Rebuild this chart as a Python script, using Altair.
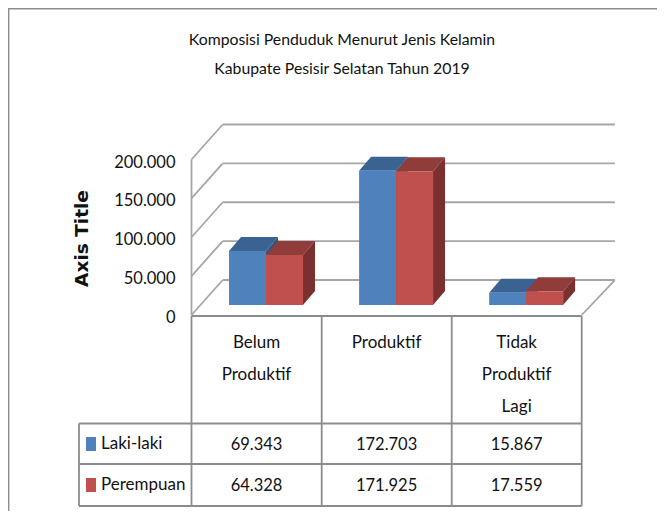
import altair as alt
import pandas as pd

categories = ["Belum\nProduktif", "Produktif", "Tidak\nProduktif\nLagi"]
laki = [69343, 172703, 15867]
perempuan = [64328, 171925, 17559]
series_names = ["Laki-laki", "Perempuan"]
ticks = [0, 50000, 100000, 150000, 200000]
title_lines = ["Komposisi Penduduk Menurut Jenis Kelamin", "Kabupate Pesisir Selatan Tahun 2019"]

FONT = "Lato"
GRID = "#a6a6a6"
TABLE = "#8c8c8c"
W, H = 649, 503

# scale units: x in category widths, y in data values
BAR_W = 0.2843
BAR_START = 0.2885
DX, DY = 0.0923, 18000
FRONT_V, BACK_V = -12860, 32146
BACK_U, END_U = 0.24, 3 + 0.255

x_scale = alt.Scale(domain=[0, 3], range=[183.5, 573.7], nice=False, zero=False)
y_scale = alt.Scale(domain=[0, 200000], range=[297, 141.5], nice=False, zero=False)

face_domain = ["Laki-laki front", "Laki-laki top", "Laki-laki side",
               "Perempuan front", "Perempuan top", "Perempuan side"]
face_range = ["#4f81bd", "#3b6392", "#34557e", "#c0504d", "#8f3c3a", "#7a302e"]
fill = lambda f: alt.Color(f, scale=alt.Scale(domain=face_domain, range=face_range), legend=None)

fronts, faces = [], []
for s, (name, vals) in enumerate(zip(series_names, [laki, perempuan])):
    for c, v in enumerate(vals):
        a = c + BAR_START + s * BAR_W
        b = a + BAR_W
        fronts.append(dict(s=s, u=a, u2=b, v=v, v0=0, face=f"{name} front"))
        for u, y1, y2 in [(a, v, v), (a + DX, v + DY, v), (b, v + DY, v), (b + DX, v + DY, v + DY)]:
            faces.append(dict(s=s, pid=f"p{s}{c}t", u=u, top=y1, low=y2, face=f"{name} top"))
        for u, y1, y2 in [(b, v, 0), (b + DX, v + DY, DY)]:
            faces.append(dict(s=s, pid=f"p{s}{c}s", u=u, top=y1, low=y2, face=f"{name} side"))
fronts = pd.DataFrame(fronts)
faces = pd.DataFrame(faces)

# walls and floor
back = pd.DataFrame({"v": [t + BACK_V for t in ticks], "u": BACK_U, "u2": END_U})
side = pd.DataFrame({"v": [t + FRONT_V for t in ticks], "v2": [t + BACK_V for t in ticks], "u": 0.0, "u2": BACK_U})
floor_edge = pd.DataFrame({"u": [END_U], "u2": [3.0], "v": [BACK_V], "v2": [FRONT_V]})
wall_axis = pd.DataFrame({"u": [0.0], "v": [FRONT_V], "v2": [200000 + FRONT_V]})

grid = [
    alt.Chart(back).mark_rule(color=GRID, strokeWidth=1.8).encode(
        x=alt.X("u:Q", scale=x_scale, axis=None), x2="u2:Q",
        y=alt.Y("v:Q", scale=y_scale, axis=alt.Axis(
            title="Axis Title", titleFont="DejaVu Sans", titleFontSize=18.5, titleFontWeight="bold",
            titleColor="#111111", titleX=-84, titleY=230, titleAngle=270, titleAlign="center",
            values=ticks, labelExpr="replace(format(datum.value, ','), ',', '.')",
            labelFont=FONT, labelFontSize=16.5, labelColor="#111111", labelOffset=12.5,
            labelPadding=0, domain=False, ticks=False, grid=False, offset=-167))),
    alt.Chart(side).mark_rule(color=GRID, strokeWidth=1.8).encode(
        x=alt.X("u:Q", scale=x_scale), x2="u2:Q", y=alt.Y("v:Q", scale=y_scale), y2="v2:Q"),
    alt.Chart(floor_edge).mark_rule(color=GRID, strokeWidth=1.8).encode(
        x=alt.X("u:Q", scale=x_scale), x2="u2:Q", y=alt.Y("v:Q", scale=y_scale), y2="v2:Q"),
    alt.Chart(wall_axis).mark_rule(color=GRID, strokeWidth=1.8).encode(
        x=alt.X("u:Q", scale=x_scale), y=alt.Y("v:Q", scale=y_scale), y2="v2:Q"),
]

bars = []
for s in [0, 1]:
    bars.append(alt.Chart(faces[faces.s == s]).mark_area(interpolate="linear", orient="vertical").encode(
        x=alt.X("u:Q", scale=x_scale), y=alt.Y("top:Q", scale=y_scale, stack=False), y2="low:Q",
        color=fill("face:N"), detail="pid:N"))
    bars.append(alt.Chart(fronts[fronts.s == s]).mark_rect().encode(
        x=alt.X("u:Q", scale=x_scale), x2="u2:Q", y=alt.Y("v:Q", scale=y_scale), y2="v0:Q",
        color=fill("face:N")))

# data table
def hline(y, x0, x1):
    return alt.Chart(pd.DataFrame({"a": [0]})).mark_rule(color=TABLE, strokeWidth=1.8).encode(
        x=alt.value(x0), x2=alt.value(x1), y=alt.value(y))
def vline(x, y0, y1):
    return alt.Chart(pd.DataFrame({"a": [0]})).mark_rule(color=TABLE, strokeWidth=1.8).encode(
        x=alt.value(x), y=alt.value(y0), y2=alt.value(y1))

table = [hline(308, 183.5, 573.7), hline(415.5, 71, 573.7), hline(456, 71, 573.7), hline(498, 71, 573.7),
         vline(71, 415.5, 498), vline(183.5, 308, 498), vline(313.7, 308, 498),
         vline(443.7, 308, 498), vline(573.7, 308, 498)]

frame = [vline(0.5, 0, H), hline(0.5, 0, W)]

cat_df = pd.DataFrame({"u": [0.5, 1.5, 2.5], "t": categories})
cat_text = alt.Chart(cat_df).mark_text(font=FONT, fontSize=17, color="#111111", baseline="top",
                                       lineBreak="\n", lineHeight=32).encode(
    x=alt.X("u:Q", scale=x_scale), y=alt.value(327), text="t:N")

def fmt(v):
    return f"{v:,}".replace(",", ".")
cell_rows = []
for name, vals, ypos in zip(series_names, [laki, perempuan], [437, 478]):
    for c, v in enumerate(vals):
        cell_rows.append(dict(u=c + 0.5, t=fmt(v), row=ypos))
cells = alt.Chart(pd.DataFrame(cell_rows)).mark_text(font=FONT, fontSize=16.5, color="#111111").encode(
    x=alt.X("u:Q", scale=x_scale), y=alt.Y("row:Q", scale=None), text="t:N")

leg_df = pd.DataFrame({"name": series_names, "row": [436, 477], "face": [face_domain[0], face_domain[3]]})
leg_sym = alt.Chart(leg_df).mark_rect(width=10, height=14).encode(
    x=alt.value(83), y=alt.Y("row:Q", scale=None), color=fill("face:N"))
leg_txt = alt.Chart(leg_df).mark_text(font=FONT, fontSize=17, color="#111111", align="left").encode(
    x=alt.value(93), y=alt.Y("row:Q", scale=None), text="name:N")

title_df = pd.DataFrame({"t": title_lines, "row": [32, 61]})
title = alt.Chart(title_df).mark_text(font=FONT, fontSize=15.8, color="#111111").encode(
    x=alt.value(334), y=alt.Y("row:Q", scale=None), text="t:N")

chart = alt.layer(*grid, *bars, *table, *frame, cat_text, cells, leg_sym, leg_txt, title).resolve_scale(
    color="shared").properties(width=W, height=H, padding=0, background="white",
                               autosize=alt.AutoSizeParams(type="none")).configure_view(stroke=None)
chart.save("out.html", embed_options={"renderer": "svg", "actions": False})
